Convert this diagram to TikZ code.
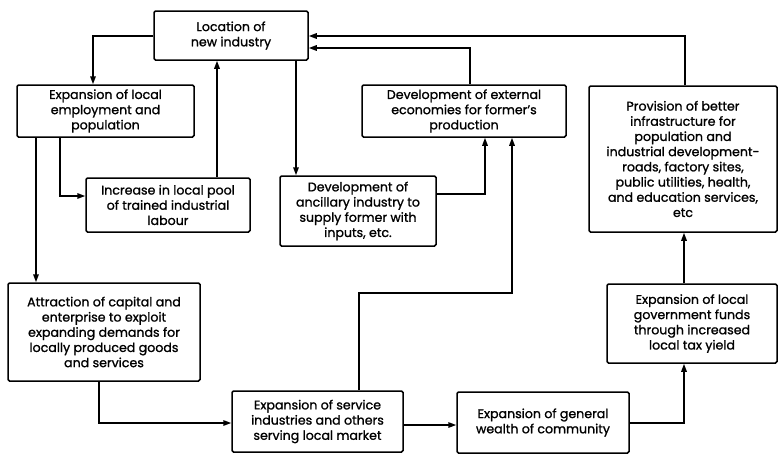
\documentclass[tikz,border=0pt]{standalone}
\usepackage{fontspec}
\setmainfont{Poppins}[FakeBold=1.2]
\usetikzlibrary{arrows.meta}
\begin{document}
\begin{tikzpicture}[x=1pt,y=-1pt,
  box/.style={draw,line width=1.5pt,rounded corners=1.5pt,align=center,inner sep=2pt,
    font=\fontsize{12.6}{15.2}\selectfont},
  arr/.style={line width=1.5pt,-{Triangle[length=8pt,width=5.5pt]}},
  ln/.style={line width=1.5pt}]
\useasboundingbox (0,0) rectangle (779,456);
\node[box,minimum width=154pt,minimum height=49pt] (loc) at (231,35.5) {Location of\\new industry};
\node[box,minimum width=177pt,minimum height=52pt] (emp) at (105.5,111) {Expansion of local\\employment and\\population};
\node[box,minimum width=164pt,minimum height=54pt] (pool) at (168,205) {Increase in local pool\\of trained industrial\\labour};
\node[box,minimum width=156pt,minimum height=70pt] (anc) at (358,211) {Development of\\ancillary industry to\\supply former with\\inputs, etc.};
\node[box,minimum width=204pt,minimum height=52pt] (ext) at (464,111) {Development of external\\economies for former's\\production};
\node[box,minimum width=188pt,minimum height=146pt] (inf) at (683,159) {Provision of better\\infrastructure for\\population and\\industrial development-\\roads, factory sites,\\public utilities, health,\\and education services,\\etc};
\node[box,minimum width=192pt,minimum height=98pt] (att) at (104,332) {Attraction of capital and\\enterprise to exploit\\expanding demands for\\locally produced goods\\and services};
\node[box,minimum width=171pt,minimum height=61pt] (ser) at (317.5,421.5) {Expansion of service\\industries and others\\serving local market};
\node[box,minimum width=172pt,minimum height=61pt] (wea) at (543,422.5) {Expansion of general\\wealth of community};
\node[box,minimum width=170pt,minimum height=79pt] (gov) at (692,323.5) {Expansion of local\\government funds\\through increased\\local tax yield};
% connectors
\draw[arr] (loc.west |- 0,36) -| (emp.north -| 93,0);
\draw[arr] (emp.south -| 36,0) -- (att.north -| 36,0);
\draw[arr] (emp.south -| 60,0) |- (pool.west |- 0,196);
\draw[arr] (pool.north -| 217,0) -- (loc.south -| 217,0);
\draw[arr] (loc.south -| 296,0) -- (anc.north -| 296,0);
\draw[arr] (ext.north -| 470,0) |- (loc.east |- 0,48);
\draw[arr] (inf.north -| 685,0) |- (loc.east |- 0,36);
\draw[arr] (anc.east |- 0,194) -| (ext.south -| 485,0);
\draw[arr] (ser.north -| 359,0) |- (512,293) -- (ext.south -| 512,0);
\draw[arr] (att.south -| 99,0) |- (ser.west |- 0,423);
\draw[arr] (ser.east |- 0,425) -- (wea.west |- 0,425);
\draw[arr] (wea.east |- 0,423) -| (gov.south -| 684,0);
\draw[arr] (gov.north -| 684,0) -- (inf.south -| 684,0);
\end{tikzpicture}
\end{document}
